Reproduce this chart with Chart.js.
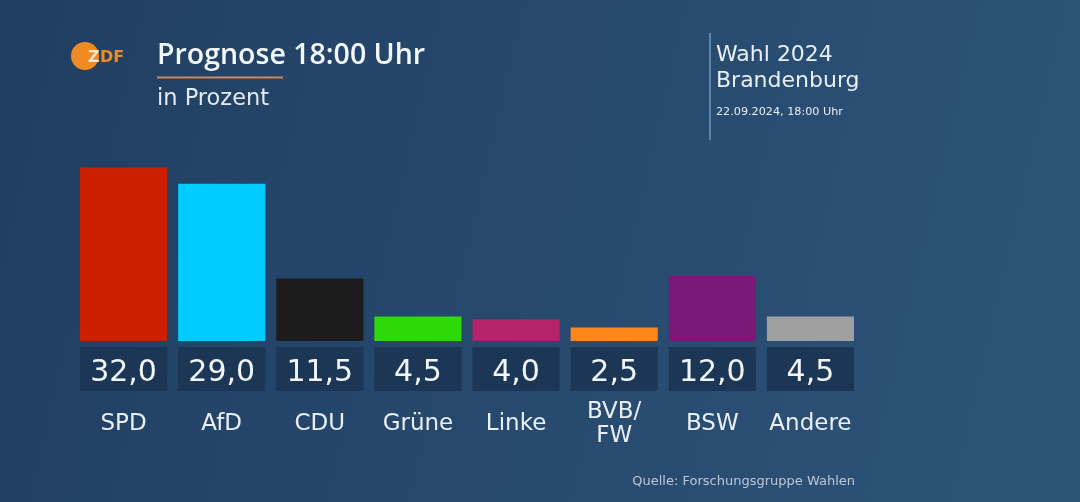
<!DOCTYPE html>
<html>
<head>
<meta charset="utf-8">
<script src="https://cdn.jsdelivr.net/npm/chart.js@4.4.1/dist/chart.umd.min.js"></script>
<style>
  html, body { margin: 0; padding: 0; background: #24466b; }
  #wrap { position: relative; width: 1080px; height: 502px; }
</style>
</head>
<body>
<div id="wrap"><canvas id="c"></canvas></div>
<script>
const categories = ["SPD", "AfD", "CDU", "Grüne", "Linke", ["BVB/", "FW"], "BSW", "Andere"];
const values = [32.0, 29.0, 11.5, 4.5, 4.0, 2.5, 12.0, 4.5];
const valueLabels = ["32,0", "29,0", "11,5", "4,5", "4,0", "2,5", "12,0", "4,5"];
const barColors = ["#cc1f00", "#00ccff", "#1c1c1c", "#2ed90a", "#b5236b", "#ff861a", "#7a1a78", "#a0a0a0"];
const title = "Prognose 18:00 Uhr";
const subtitle = "in Prozent";
const infoLines = ["Wahl 2024", "Brandenburg"];
const infoDate = "22.09.2024, 18:00 Uhr";
const source = "Quelle: Forschungsgruppe Wahlen";

const FONT = "'DejaVu Sans', sans-serif";

const decor = {
  id: 'decor',
  beforeDraw(chart) {
    const ctx = chart.ctx;
    const W = chart.width, H = chart.height;
    ctx.save();
    const g = ctx.createLinearGradient(0, 0, W, H * 0.5);
    g.addColorStop(0, '#203e62');
    g.addColorStop(1, '#2d5379');
    ctx.fillStyle = g;
    ctx.fillRect(0, 0, W, H);
    ctx.restore();
  },
  afterDatasetsDraw(chart) {
    const ctx = chart.ctx;
    const meta = chart.getDatasetMeta(0);
    const base = chart.scales.y.getPixelForValue(0);
    ctx.save();
    meta.data.forEach((bar, i) => {
      const w = bar.width;
      const x0 = bar.x - w / 2;
      // value box
      ctx.fillStyle = '#1c3756';
      ctx.fillRect(x0, base + 6, w, 44);
      ctx.fillStyle = '#f2f5f8';
      ctx.font = `30px ${FONT}`;
      ctx.textAlign = 'center';
      ctx.textBaseline = 'alphabetic';
      ctx.fillText(valueLabels[i], bar.x, base + 40);
      // category label
      const lab = categories[i];
      const lines = Array.isArray(lab) ? lab : [lab];
      ctx.font = `23px ${FONT}`;
      ctx.fillStyle = '#e9eff5';
      const lh = 24;
      const cy = 429.5;
      lines.forEach((ln, k) => {
        const y = cy + (k - (lines.length - 1) / 2) * lh;
        ctx.fillText(ln, bar.x, y);
      });
    });

    // logo
    ctx.fillStyle = '#f08a22';
    ctx.beginPath();
    ctx.arc(85, 56, 14, 0, Math.PI * 2);
    ctx.fill();
    ctx.font = `bold 16px ${FONT}`;
    ctx.textAlign = 'left';
    ctx.fillStyle = '#f6e3c8';
    ctx.fillText('Z', 88, 62);
    ctx.fillStyle = '#f08a22';
    ctx.fillText('DF', 100, 62);

    // title
    ctx.fillStyle = '#f4f7fa';
    ctx.font = `600 28.5px 'Open Sans', ${FONT}`;
    ctx.fillText(title, 157, 64);
    ctx.fillStyle = '#c98a5c';
    ctx.fillRect(157, 76.5, 126, 2);
    ctx.fillStyle = '#e3ebf2';
    ctx.font = `22.5px ${FONT}`;
    ctx.fillText(subtitle, 157, 105);

    // info box
    ctx.fillStyle = '#5c83a8';
    ctx.fillRect(709, 33, 2, 107);
    ctx.fillStyle = '#e8eff5';
    ctx.font = `22px ${FONT}`;
    ctx.fillText(infoLines[0], 716, 61);
    ctx.fillText(infoLines[1], 716, 87);
    ctx.font = `11.2px ${FONT}`;
    ctx.fillText(infoDate, 716, 115);

    // source
    ctx.fillStyle = '#b9c9d9';
    ctx.font = `13px ${FONT}`;
    ctx.textAlign = 'right';
    ctx.fillText(source, 855, 485);
    ctx.restore();
  }
};

new Chart(document.getElementById('c'), {
  type: 'bar',
  data: {
    labels: categories,
    datasets: [{
      data: values,
      backgroundColor: barColors,
      borderWidth: 0,
      barPercentage: 0.888,
      categoryPercentage: 1.0
    }]
  },
  options: {
    responsive: true,
    maintainAspectRatio: false,
    animation: false,
    events: [],
    layout: { padding: { left: 74.5, right: 220.5, top: 124, bottom: 161 } },
    plugins: { legend: { display: false }, tooltip: { enabled: false } },
    scales: {
      x: { display: false, grid: { display: false } },
      y: { display: false, min: 0, max: 40, grid: { display: false } }
    }
  },
  plugins: [decor]
});
</script>
</body>
</html>
